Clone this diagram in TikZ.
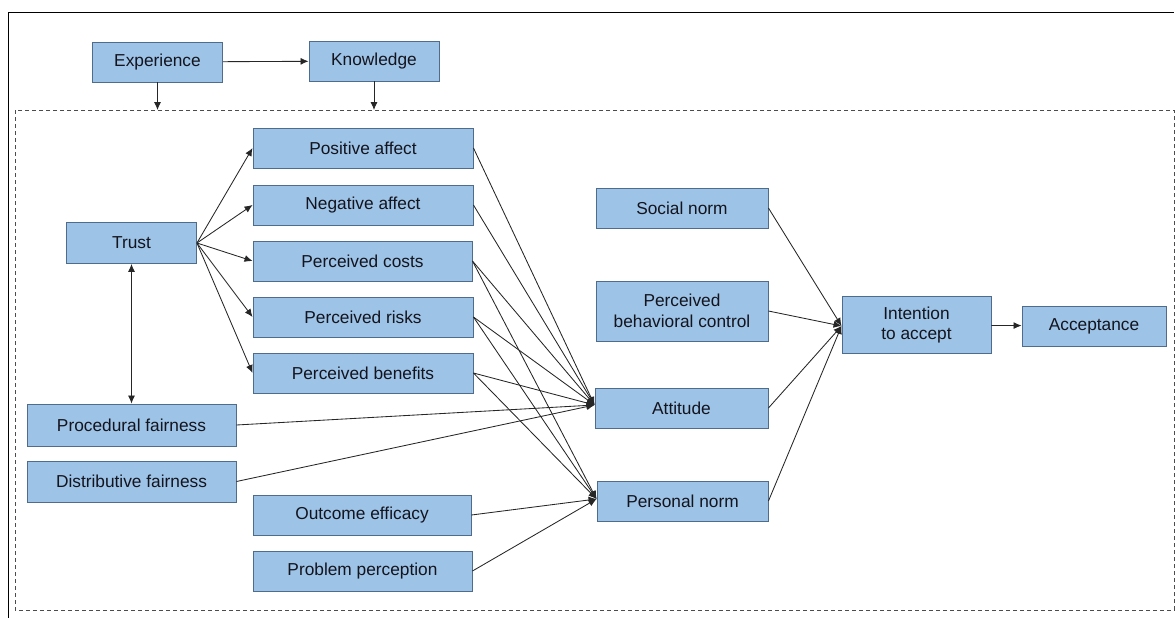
\documentclass[tikz,border=0pt]{standalone}
\usepackage{fontspec}
\setmainfont{Liberation Sans}
\usetikzlibrary{arrows.meta}
\definecolor{boxfill}{RGB}{157,195,230}
\definecolor{boxdraw}{RGB}{80,108,140}
\definecolor{txt}{RGB}{20,20,30}
\tikzset{
  bx/.style={draw=boxdraw, fill=boxfill, line width=0.9pt, inner sep=0pt, align=center,
    text=txt, font=\fontsize{17.3}{20.5}\selectfont},
  conn/.style={draw=black!85, line width=0.85pt, -{Latex[length=8pt,width=7pt]}},
  conn2/.style={draw=black!85, line width=0.85pt, {Latex[length=8pt,width=7pt]}-{Latex[length=8pt,width=7pt]}},
}
\newcommand{\bxat}[6]{\node[bx, minimum width=#4pt, minimum height=#5pt] (#1) at (#2,#3) {#6};}
\begin{document}
\begin{tikzpicture}[x=1pt,y=-1pt]
\useasboundingbox (0,0) rectangle (1175,618);
% frame
\draw[black, line width=1pt] (8,618) -- (8,13) -- (1174,13);
\draw[black!70, line width=0.9pt, dash pattern=on 4pt off 3pt] (15,110) rectangle (1174,610);
% nodes
\bxat{exp}{157.5}{62}{130}{40}{Experience}
\bxat{know}{374}{61}{130}{40}{Knowledge}
\bxat{trust}{131.5}{243}{130}{41}{Trust}
\bxat{pos}{363}{148}{220}{40}{Positive affect}
\bxat{neg}{363}{205}{220}{40}{Negative affect}
\bxat{cost}{362.5}{261}{219}{40}{Perceived costs}
\bxat{risk}{363}{317}{220}{40}{Perceived risks}
\bxat{ben}{363}{373}{220}{40}{Perceived benefits}
\bxat{proc}{131.5}{425}{209}{42}{Procedural fairness}
\bxat{dist}{131.5}{481.5}{209}{41}{Distributive fairness}
\bxat{outc}{362}{515}{218}{40}{Outcome efficacy}
\bxat{prob}{362.5}{571}{219}{40}{Problem perception}
\bxat{soc}{682}{208}{172}{40}{Social norm}
\bxat{pbc}{682}{311}{172}{60}{Perceived\\behavioral control}
\bxat{att}{681.5}{408}{173}{40}{Attitude}
\bxat{pers}{682.5}{501}{171}{40}{Personal norm}
\bxat{int}{916.5}{325}{149}{57}{Intention\\to accept}
\bxat{acc}{1094}{326}{144}{40}{Acceptance}
% coordinates on dashed frame
\coordinate (expin) at (157.5,110);
\coordinate (knowin) at (374,110);
\coordinate (attin) at ([yshift=3pt]att.west);
\coordinate (persin) at ([yshift=2pt]pers.west);
% connectors
\draw[conn] (exp) -- (know);
\draw[conn] (exp.south) -- (expin);
\draw[conn] (know.south) -- (knowin);
\foreach \t in {pos,neg,cost,risk,ben} { \draw[conn] (trust.east) -- (\t.west); }
\draw[conn2] (trust.south) -- (proc.north -| trust.south);
\foreach \s in {pos,neg,cost,risk,ben,proc,dist} { \draw[conn] (\s.east) -- (attin); }
\foreach \s in {cost,risk,ben,outc,prob} { \draw[conn] (\s.east) -- (persin); }
\foreach \s in {soc,pbc,att,pers} { \draw[conn] (\s.east) -- ([yshift=-1pt]int.west); }
\draw[conn] (int) -- (acc);
\end{tikzpicture}
\end{document}
